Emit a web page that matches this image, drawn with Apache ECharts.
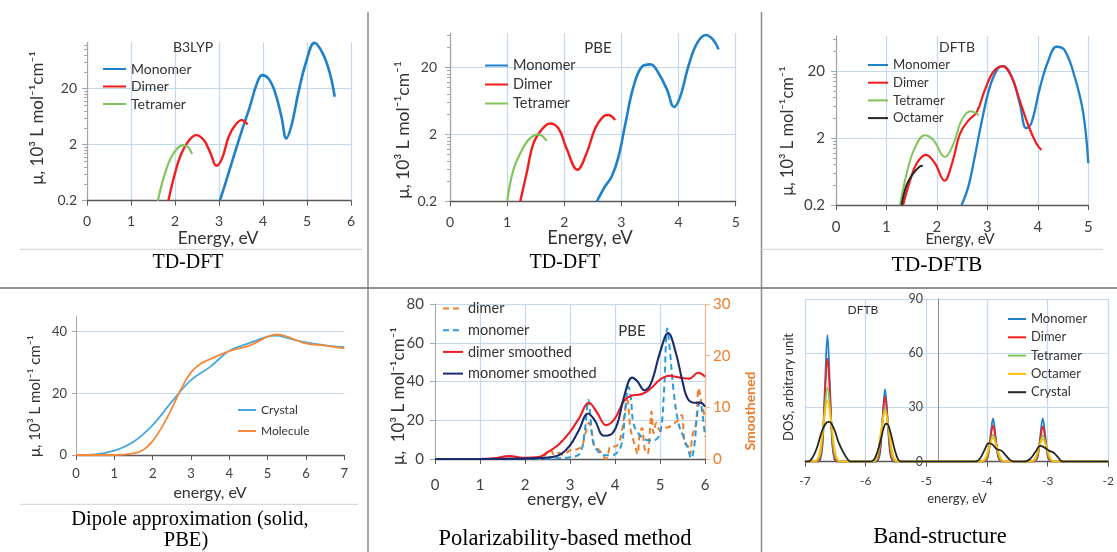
<!DOCTYPE html>
<html>
<head>
<meta charset="utf-8">
<script src="https://cdn.jsdelivr.net/npm/echarts@6/dist/echarts.min.js"></script>
<style>
  html, body { margin: 0; padding: 0; background: #fff; }
  #chart { width: 1117px; height: 552px; }
</style>
</head>
<body>
<div id="chart"></div>
<script>
// ---------- TD-DFT (B3LYP) absorption, 10^3 L mol-1 cm-1 ----------
const b3lypMonomer = [[3.02,0.2],[3.17,0.47],[3.32,1.14],[3.51,3.4],[3.70,9.5],[3.85,23.3],[3.98,35],[4.12,30.7],[4.27,17.6],[4.42,6.3],[4.53,2.6],[4.65,4.5],[4.80,16.5],[4.98,60],[5.17,132],[5.36,85],[5.52,37.6],[5.63,14.4]];
const b3lypDimer = [[1.85,0.2],[1.98,0.54],[2.13,1.31],[2.32,2.4],[2.48,2.97],[2.66,2.4],[2.81,1.39],[2.94,0.84],[3.07,1.14],[3.22,2.77],[3.37,4.5],[3.52,5.5],[3.65,4.6]];
const b3lypTetramer = [[1.61,0.2],[1.75,0.54],[1.90,1.14],[2.05,1.72],[2.18,1.97],[2.30,1.8],[2.39,1.37]];

// ---------- TD-DFT (PBE) ----------
const pbeMonomer = [[2.57,0.2],[2.71,0.33],[2.83,0.47],[2.95,0.93],[3.07,2.9],[3.21,10.2],[3.36,20.4],[3.51,22.1],[3.65,16.3],[3.80,9.2],[3.92,5.1],[4.03,7.3],[4.17,20.4],[4.32,45],[4.48,60.6],[4.61,50.9],[4.70,37]];
const pbeDimer = [[1.23,0.2],[1.34,0.52],[1.46,1.46],[1.60,2.32],[1.75,2.9],[1.90,2.44],[2.04,1.23],[2.23,0.59],[2.39,1.04],[2.54,2.44],[2.68,3.66],[2.77,3.88],[2.89,3.28]];
const pbeTetramer = [[1.0,0.2],[1.11,0.59],[1.26,1.17],[1.40,1.74],[1.55,2.0],[1.69,1.6]];

// ---------- TD-DFTB ----------
const dftbMonomer = [[2.49,0.2],[2.62,0.37],[2.75,1.05],[2.88,3.3],[3.05,11.7],[3.21,21.9],[3.31,23.7],[3.48,16.4],[3.64,6.6],[3.77,2.8],[3.87,3.3],[4.04,11.1],[4.20,27.5],[4.37,46],[4.53,41],[4.73,16.4],[4.90,4.7],[5.0,0.84]];
const dftbDimer = [[1.33,0.2],[1.47,0.47],[1.60,0.84],[1.78,1.12],[1.96,0.84],[2.15,0.46],[2.30,0.84],[2.46,2.34],[2.63,3.7],[2.79,4.9],[2.95,10.4],[3.12,19.5],[3.30,23.7],[3.48,16.4],[3.64,7.3],[3.81,3.1],[3.97,1.66],[4.07,1.32]];
const dftbTetramer = [[1.27,0.2],[1.40,0.59],[1.56,1.41],[1.76,2.2],[1.93,1.86],[2.16,1.04],[2.33,1.66],[2.49,3.7],[2.67,5.0],[2.83,4.4]];
const dftbOctamer = [[1.30,0.2],[1.40,0.40],[1.53,0.59],[1.66,0.75],[1.72,0.77]];

// ---------- Dipole approximation (solid, PBE) ----------
const dipoleCrystal = [[0,0],[0.5,0.2],[1,1.4],[1.5,4.3],[2,9.7],[2.5,17.3],[3,24.3],[3.5,28.6],[4,33.8],[4.5,36.2],[5,38.4],[5.25,38.7],[5.5,38],[6,36.5],[6.5,35.6],[7,35]];
const dipoleMolecule = [[0,0],[1,0],[1.5,0.5],[1.75,1.6],[2,4.5],[2.25,9.2],[2.5,15.1],[2.75,21.6],[3,26.8],[3.25,29.6],[3.5,31.1],[4,33.7],[4.5,35.4],[4.75,36.8],[5,38.4],[5.25,39.1],[5.5,38.4],[6,36.2],[6.5,35.5],[7,34.6]];

// ---------- Polarizability-based method (PBE) ----------
// dimer (dashed) is read on the right axis, the others on the left axis
const polDimer = [[0,0],[2.3,0],[2.45,0.8],[2.56,1.9],[2.65,0.8],[2.75,1.2],[2.85,0.8],[3.0,1.7],[3.15,1.9],[3.26,2.4],[3.33,4.5],[3.42,7],[3.5,4.5],[3.55,2.4],[3.65,1.7],[3.75,0.5],[3.8,0],[3.85,1.1],[3.9,2.4],[4.0,2.4],[4.1,3.4],[4.2,8],[4.27,11.4],[4.35,5.6],[4.45,2.4],[4.5,1],[4.55,5],[4.6,6],[4.66,2],[4.72,1],[4.78,6],[4.81,9.2],[4.86,5],[4.92,7],[5.0,5.5],[5.1,6],[5.2,6.2],[5.3,6.8],[5.4,7.5],[5.48,8.5],[5.55,3],[5.63,2.4],[5.67,1],[5.72,4.5],[5.8,7],[5.86,13.7],[5.92,11],[6.0,8]];
const polMonomer = [[0,0],[2,0],[2.5,0.1],[2.8,0.5],[3.0,0.9],[3.22,2.9],[3.33,15],[3.41,30.5],[3.46,20],[3.52,8],[3.63,3.8],[3.74,2],[3.89,2],[4.0,2.4],[4.15,8],[4.22,23.6],[4.3,37.3],[4.35,32],[4.41,18.4],[4.52,13.2],[4.7,9.8],[4.85,9.5],[5.0,13.2],[5.09,35.6],[5.16,67.4],[5.22,56],[5.3,35.6],[5.41,18.4],[5.52,11.5],[5.63,4.6],[5.69,0.3],[5.76,6.4],[5.83,23.6],[5.89,29.6],[5.95,21.8],[6.0,11.5]];
const polDimerSmoothed = [[0,0],[1,0],[1.3,0.3],[1.65,1.5],[2.0,0.6],[2.3,1],[2.5,3.5],[2.75,7.5],[3.0,14],[3.2,21],[3.42,29],[3.6,24],[3.8,17.5],[4.0,21],[4.2,30],[4.35,32.5],[4.6,33.5],[4.8,36.5],[5.0,41],[5.2,43],[5.45,42],[5.65,41.5],[5.85,44.5],[6.0,42.5]];
const polMonomerSmoothed = [[0,0],[1,0],[2,0.2],[2.3,0.5],[2.6,1],[2.8,2.5],[3.0,7],[3.2,15],[3.4,23.5],[3.55,20],[3.75,12],[3.9,12.5],[4.05,18],[4.2,32],[4.38,42],[4.5,40],[4.65,35.5],[4.8,39],[5.0,55],[5.18,65],[5.35,55],[5.5,40],[5.62,31],[5.78,29],[5.9,29],[6.0,27]];

// ---------- Band-structure DOS (DFTB) ----------
const dosMonomer = [[-7,0],[-6.79,0],[-6.75,0.8],[-6.71,9.5],[-6.67,42.5],[-6.63,70],[-6.59,42.5],[-6.55,9.5],[-6.51,0.8],[-6.47,0],
  [-5.84,0],[-5.80,0.4],[-5.76,5.4],[-5.72,24.3],[-5.68,40],[-5.64,24.3],[-5.60,5.4],[-5.56,0.4],[-5.52,0],
  [-4.06,0],[-4.02,0.3],[-3.98,3.2],[-3.94,14.6],[-3.90,24],[-3.86,14.6],[-3.82,3.2],[-3.78,0.3],[-3.74,0],
  [-3.24,0],[-3.20,0.3],[-3.16,3.2],[-3.12,14.6],[-3.08,24],[-3.04,14.6],[-3.00,3.2],[-2.96,0.3],[-2.92,0],[-2,0]];
const dosDimer = [[-7,0],[-6.81,0],[-6.765,0.6],[-6.72,7.7],[-6.675,34.6],[-6.63,57],[-6.585,34.6],[-6.54,7.7],[-6.495,0.6],[-6.45,0],
  [-5.86,0],[-5.815,0.4],[-5.77,4.9],[-5.725,21.8],[-5.68,36],[-5.635,21.8],[-5.59,4.9],[-5.545,0.4],[-5.5,0],
  [-4.08,0],[-4.035,0.2],[-3.99,2.7],[-3.945,12.1],[-3.90,20],[-3.855,12.1],[-3.81,2.7],[-3.765,0.2],[-3.72,0],
  [-3.26,0],[-3.215,0.2],[-3.17,2.6],[-3.125,11.8],[-3.08,19.5],[-3.035,11.8],[-2.99,2.6],[-2.945,0.2],[-2.9,0],[-2,0]];
const dosTetramer = [[-7,0],[-6.85,0],[-6.795,0.5],[-6.74,5.5],[-6.685,24.9],[-6.63,41],[-6.575,24.9],[-6.52,5.5],[-6.465,0.5],[-6.41,0],
  [-5.9,0],[-5.845,0.3],[-5.79,4.1],[-5.735,18.2],[-5.68,30],[-5.625,18.2],[-5.57,4.1],[-5.515,0.3],[-5.46,0],
  [-4.12,0],[-4.065,0.2],[-4.01,2.0],[-3.955,9.1],[-3.90,15],[-3.845,9.1],[-3.79,2.0],[-3.735,0.2],[-3.68,0],
  [-3.3,0],[-3.245,0.2],[-3.19,2.0],[-3.135,8.8],[-3.08,14.5],[-3.025,8.8],[-2.97,2.0],[-2.915,0.2],[-2.86,0],[-2,0]];
const dosOctamer = [[-7,0],[-6.89,0],[-6.825,0.4],[-6.76,4.6],[-6.695,20.6],[-6.63,34],[-6.565,20.6],[-6.50,4.6],[-6.435,0.4],[-6.37,0],
  [-5.94,0],[-5.875,0.3],[-5.81,3.8],[-5.745,17.0],[-5.68,28],[-5.615,17.0],[-5.55,3.8],[-5.485,0.3],[-5.42,0],
  [-4.16,0],[-4.095,0.1],[-4.03,1.8],[-3.965,7.9],[-3.90,13],[-3.835,7.9],[-3.77,1.8],[-3.705,0.1],[-3.64,0],
  [-3.34,0],[-3.275,0.1],[-3.21,1.7],[-3.145,7.6],[-3.08,12.5],[-3.015,7.6],[-2.95,1.7],[-2.885,0.1],[-2.82,0],[-2,0]];
const dosCrystal = [[-7,0],[-6.95,0],[-6.88,2],[-6.8,8],[-6.72,17],[-6.65,21.5],[-6.6,22],[-6.52,18],[-6.45,11],[-6.38,6],[-6.3,1.5],[-6.24,0],
  [-5.92,0],[-5.84,2.5],[-5.76,11],[-5.69,20],[-5.65,21],[-5.59,16],[-5.52,6.5],[-5.46,1],[-5.4,0],
  [-4.2,0],[-4.12,1.5],[-4.04,6.5],[-3.97,10.3],[-3.91,9.5],[-3.84,7],[-3.76,6],[-3.69,3.5],[-3.62,1],[-3.55,0],
  [-3.38,0],[-3.29,1.5],[-3.2,5.5],[-3.12,8.8],[-3.05,7.8],[-2.97,6],[-2.9,5],[-2.83,2.5],[-2.75,0],[-2,0]];

// ---------- tick values ----------
const logMajorTicks = [0.2, 2, 20];
const logMinorTicks = [0.4,0.6,0.8,1,1.2,1.4,1.6,1.8,4,6,8,10,12,14,16,18,40,60,80,100,120];
const dipoleYTicks = [0, 20, 40];

// ---------- styling ----------
const SANS = 'Lato, "Noto Sans", "DejaVu Sans", sans-serif';
const SERIF = '"Liberation Serif", "DejaVu Serif", serif';
const TXT = '#404040';
const GRIDC = '#c4d8ee';
const AXISDARK = '#595959';
const AXISLIGHT = '#a6a6a6';
const C = {
  blue: '#1f80cc', red: '#f21d1d', green: '#80c55a', black: '#262626', yellow: '#ffc000',
  crystal: '#4aa8df', molecule: '#f5893a',
  dimerDash: '#ee7d2d', monoDash: '#2a9ad9', dimerSm: '#ee1d23', monoSm: '#1b2c6c'
};
const YTITLE = 'μ, 10³ L mol⁻¹cm⁻¹';

const grids = [
  { left: 87,  top: 42.3, width: 264,   height: 158.4 },
  { left: 450, top: 33.3, width: 285.7, height: 168 },
  { left: 836, top: 36,   width: 252.3, height: 169 },
  { left: 76,  top: 316.3, width: 268.3, height: 138.7 },
  { left: 435, top: 304,  width: 270,   height: 155 },
  { left: 805, top: 299,  width: 306.7, height: 162.7 }
];

function xAx(gi, min, max, fs, margin, split) {
  return {
    type: 'value', gridIndex: gi, min: min, max: max, interval: 1, position: 'bottom',
    axisLine: { show: true, onZero: false, lineStyle: { color: AXISDARK, width: 1.3 } },
    axisTick: { show: true, length: 5, lineStyle: { color: AXISDARK } },
    axisLabel: { fontSize: fs, color: TXT, fontFamily: SANS, margin: margin },
    splitLine: { show: split, lineStyle: { color: GRIDC, width: 1.2 } }
  };
}
function logAx(gi, max, fs, margin) {
  return {
    type: 'log', logBase: 10, gridIndex: gi, min: 0.2, max: max, position: 'left',
    axisLine: { show: true, lineStyle: { color: AXISLIGHT, width: 1.2 } },
    axisTick: { show: true, length: 5, customValues: logMajorTicks, lineStyle: { color: AXISLIGHT } },
    axisLabel: { customValues: logMajorTicks, fontSize: fs, color: TXT, fontFamily: SANS, margin: margin,
      formatter: v => (v < 1 ? v.toFixed(1) : String(Math.round(v))) },
    splitLine: { show: true, lineStyle: { color: GRIDC, width: 1.2 } }
  };
}
function logMinorAx(gi, max) {
  return {
    type: 'log', logBase: 10, gridIndex: gi, min: 0.2, max: max, position: 'left', offset: 0,
    axisLine: { show: false },
    axisTick: { show: true, length: 3, customValues: logMinorTicks.filter(v => v < max), lineStyle: { color: AXISLIGHT } },
    axisLabel: { show: false },
    splitLine: { show: false }
  };
}

const xAxis = [
  xAx(0, 0, 6, 14, 14, true),
  xAx(1, 0, 5, 14, 14, true),
  xAx(2, 0, 5, 15, 15, true),
  xAx(3, 0, 7, 13, 12, false),
  xAx(4, 0, 6, 15, 19, true),
  xAx(5, -7, -2, 12, 13, true)
];

const yAxis = [
  logAx(0, 135, 14, 10),
  logMinorAx(0, 135),
  logAx(1, 64.3, 14, 13),
  logMinorAx(1, 64.3),
  logAx(2, 66.6, 15, 11),
  logMinorAx(2, 66.6),
  { // 6: dipole
    type: 'value', gridIndex: 3, min: 0, max: 45, position: 'left',
    axisLine: { show: true, lineStyle: { color: AXISLIGHT } },
    axisTick: { show: true, length: 4, customValues: dipoleYTicks, lineStyle: { color: AXISLIGHT } },
    axisLabel: { customValues: dipoleYTicks, fontSize: 13, color: TXT, fontFamily: SANS, margin: 9 },
    splitLine: { show: true, lineStyle: { color: GRIDC, width: 1.2 } }
  },
  { // 7: polarizability, left
    type: 'value', gridIndex: 4, min: 0, max: 80, interval: 20, position: 'left',
    axisLine: { show: true, lineStyle: { color: AXISLIGHT } },
    axisTick: { show: true, length: 5, lineStyle: { color: AXISLIGHT } },
    axisLabel: { fontSize: 15, color: TXT, fontFamily: SANS, margin: 11 },
    splitLine: { show: true, lineStyle: { color: GRIDC, width: 1.2 } }
  },
  { // 8: polarizability, right
    type: 'value', gridIndex: 4, position: 'right', min: 0, max: 30, interval: 10,
    axisLine: { show: true, lineStyle: { color: '#f6b98c', width: 1.2 } },
    axisTick: { show: true, length: 5, lineStyle: { color: '#f6b98c' } },
    axisLabel: { fontSize: 15, color: '#ee7d2d', fontFamily: SANS, margin: 8 },
    splitLine: { show: false }
  },
  { // 9: DOS
    type: 'value', gridIndex: 5, min: 0, max: 90, interval: 30, offset: -133, position: 'left',
    axisLine: { show: true, lineStyle: { color: '#8c8c8c' } },
    axisTick: { show: false },
    axisLabel: { fontSize: 12.5, color: TXT, fontFamily: SANS, margin: 15 },
    splitLine: { show: true, lineStyle: { color: GRIDC, width: 1.2 } }
  }
];

function line(name, data, xi, yi, color, width, dash) {
  return {
    type: 'line', name: name, data: data, xAxisIndex: xi, yAxisIndex: yi,
    smooth: 0.4, symbol: 'none', showSymbol: false, silent: true,
    lineStyle: { color: color, width: width, type: dash ? [6, 4] : 'solid' },
    itemStyle: { color: color }
  };
}

const series = [
  line('B3LYP|Monomer', b3lypMonomer, 0, 0, C.blue, 2.6),
  line('B3LYP|Dimer', b3lypDimer, 0, 0, C.red, 2.4),
  line('B3LYP|Tetramer', b3lypTetramer, 0, 0, C.green, 2.2),

  line('PBE|Monomer', pbeMonomer, 1, 2, C.blue, 2.6),
  line('PBE|Dimer', pbeDimer, 1, 2, C.red, 2.4),
  line('PBE|Tetramer', pbeTetramer, 1, 2, C.green, 2.2),

  line('DFTB|Monomer', dftbMonomer, 2, 4, C.blue, 2.3),
  line('DFTB|Dimer', dftbDimer, 2, 4, C.red, 2.2),
  line('DFTB|Tetramer', dftbTetramer, 2, 4, C.green, 2.0),
  line('DFTB|Octamer', dftbOctamer, 2, 4, C.black, 2.0),

  line('DIP|Crystal', dipoleCrystal, 3, 6, C.crystal, 1.8),
  line('DIP|Molecule', dipoleMolecule, 3, 6, C.molecule, 1.8),

  line('POL|dimer', polDimer, 4, 8, C.dimerDash, 2, true),
  line('POL|monomer', polMonomer, 4, 7, C.monoDash, 2, true),
  line('POL|dimer smoothed', polDimerSmoothed, 4, 7, C.dimerSm, 2.1),
  line('POL|monomer smoothed', polMonomerSmoothed, 4, 7, C.monoSm, 2.1),

  line('DOS|Monomer', dosMonomer, 5, 9, C.blue, 1.8),
  line('DOS|Dimer', dosDimer, 5, 9, C.red, 1.8),
  line('DOS|Tetramer', dosTetramer, 5, 9, C.green, 1.8),
  line('DOS|Octamer', dosOctamer, 5, 9, C.yellow, 1.8),
  line('DOS|Crystal', dosCrystal, 5, 9, C.black, 1.8)
];

// line-only legend keys: the marker symbol is made transparent
function legend(prefix, names, left, top, itemWidth, gap, fs) {
  return {
    orient: 'vertical', left: left, top: top, padding: 0,
    itemWidth: itemWidth, itemHeight: 14, itemGap: gap,
    data: names.map(n => prefix + '|' + n),
    formatter: n => n.split('|')[1],
    selectedMode: false,
    itemStyle: { opacity: 0 },
    textStyle: { fontSize: fs, color: '#333', fontFamily: SANS, lineHeight: 14 }
  };
}

const legends = [
  legend('B3LYP', ['Monomer', 'Dimer', 'Tetramer'], 102, 62, 23, 3.5, 14),
  legend('PBE', ['Monomer', 'Dimer', 'Tetramer'], 484, 58, 23, 4, 14.5),
  legend('DFTB', ['Monomer', 'Dimer', 'Tetramer', 'Octamer'], 867, 58, 20, 3.7, 13.2),
  legend('DIP', ['Crystal', 'Molecule'], 237, 403, 18, 7, 12),
  legend('POL', ['dimer', 'monomer', 'dimer smoothed', 'monomer smoothed'], 442, 301, 20, 6.7, 14.5),
  legend('DOS', ['Monomer', 'Dimer', 'Tetramer', 'Octamer', 'Crystal'], 1007, 312, 18, 4.3, 13)
];

function txt(x, y, text, size, opts) {
  opts = opts || {};
  return {
    type: 'text', x: x, y: y, rotation: opts.rot || 0, silent: true, z: 100,
    style: {
      text: text, fontSize: size, fontFamily: opts.family || SANS,
      fontWeight: opts.weight || 'normal', fill: opts.color || '#333',
      textAlign: 'center', textVerticalAlign: 'middle'
    }
  };
}
function hline(x1, x2, y, color, w) {
  return { type: 'line', silent: true, shape: { x1: x1, y1: y, x2: x2, y2: y }, style: { stroke: color, lineWidth: w } };
}
function vline(x, y1, y2, color, w) {
  return { type: 'line', silent: true, shape: { x1: x, y1: y1, x2: x, y2: y2 }, style: { stroke: color, lineWidth: w } };
}

const R = Math.PI / 2;
const graphic = [
  // panel frame
  vline(368, 12, 552, '#8a8a8a', 1.5),
  vline(761.5, 12, 552, '#8a8a8a', 1.5),
  hline(0, 1117, 288, '#6e6e6e', 1.5),
  hline(20, 362, 249.3, '#d0d0d0', 1),
  hline(760, 1103, 249.3, '#d0d0d0', 1),
  hline(20, 358, 504.3, '#d0d0d0', 1),

  // panel titles
  txt(193, 47, 'B3LYP', 14),
  txt(598, 48, 'PBE', 15),
  txt(957, 47, 'DFTB', 14),
  txt(632, 331, 'PBE', 15),
  txt(863, 310, 'DFTB', 12),

  // axis titles
  txt(38, 118, YTITLE, 17, { rot: R }),
  txt(218, 238, 'Energy, eV', 17.5),
  txt(403, 130, YTITLE, 17.5, { rot: R }),
  txt(590, 238, 'Energy, eV', 18.5),
  txt(788, 131, YTITLE, 16.5, { rot: R }),
  txt(960, 239, 'Energy, eV', 15),
  txt(35, 396, 'μ, 10³ L mol⁻¹ cm⁻¹', 15, { rot: R }),
  txt(210, 493, 'energy, eV', 16),
  txt(399, 396, 'μ,  10³ L mol⁻¹cm⁻¹', 17, { rot: R }),
  txt(750, 411, 'Smoothened', 14, { rot: R, color: '#ee7d2d', weight: 'bold' }),
  txt(567, 499, 'energy, eV', 17.5),
  txt(789, 387, 'DOS, arbitrary unit', 13, { rot: R }),
  txt(957, 499, 'energy, eV', 13),

  // captions
  txt(188, 263, 'TD-DFT', 20, { family: SERIF, color: '#000' }),
  txt(565, 263, 'TD-DFT', 20, { family: SERIF, color: '#000' }),
  txt(937, 265, 'TD-DFTB', 21.5, { family: SERIF, color: '#000' }),
  txt(190, 520, 'Dipole approximation (solid,', 20.5, { family: SERIF, color: '#000' }),
  txt(186, 541, 'PBE)', 20.5, { family: SERIF, color: '#000' }),
  txt(565, 539, 'Polarizability-based method', 22.5, { family: SERIF, color: '#000' }),
  txt(940, 537, 'Band-structure', 22.5, { family: SERIF, color: '#000' })
];

const chart = echarts.init(document.getElementById('chart'), null, { renderer: 'canvas' });
chart.setOption({
  animation: false,
  backgroundColor: '#ffffff',
  grid: grids.map(g => Object.assign({ containLabel: false, show: false }, g)),
  xAxis: xAxis,
  yAxis: yAxis,
  legend: legends,
  series: series,
  graphic: graphic
});
</script>
</body>
</html>
